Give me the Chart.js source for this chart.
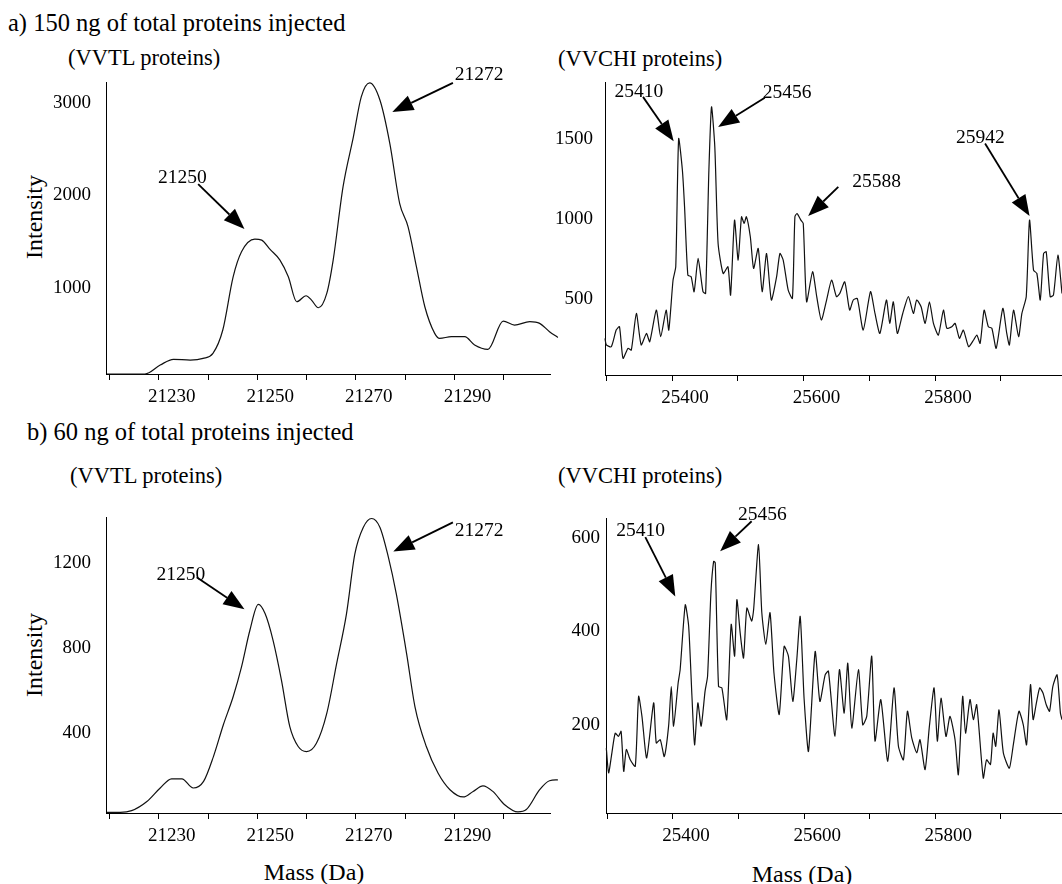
<!DOCTYPE html>
<html>
<head>
<meta charset="utf-8">
<title>Deconvoluted mass spectra</title>
<script src="https://cdn.jsdelivr.net/npm/chart.js@4.4.1/dist/chart.umd.min.js"></script>
<style>
	body {
		margin: 0;
		background: #fff;
	}
	#page {
		position: relative;
		width: 1062px;
		height: 884px;
		overflow: hidden;
		font-family: "Liberation Serif", "Times New Roman", serif;
		color: #000;
	}
	#page canvas {
		position: absolute;
	}
	.txt {
		position: absolute;
		white-space: nowrap;
		line-height: 1;
	}
	.title {
		font-size: 24.5px;
	}
	.sub {
		font-size: 22.5px;
	}
	.axis-title {
		font-size: 24px;
		transform: translate(-50%, -50%);
	}
	.vert {
		transform: translate(-50%, -50%) rotate(-90deg);
	}
</style>
</head>
<body>
<div id="page">
	<div class="txt title" style="left: 8px; top: 11px">a) 150 ng of total proteins injected</div>
	<div class="txt sub" style="left: 68px; top: 47px">(VVTL proteins)</div>
	<div class="txt sub" style="left: 558px; top: 48px">(VVCHI proteins)</div>
	<div class="txt axis-title vert" style="left: 34px; top: 217px">Intensity</div>

	<div class="txt title" style="left: 27px; top: 420px">b) 60 ng of total proteins injected</div>
	<div class="txt sub" style="left: 70px; top: 465px">(VVTL proteins)</div>
	<div class="txt sub" style="left: 558px; top: 465px">(VVCHI proteins)</div>
	<div class="txt axis-title vert" style="left: 34px; top: 655px">Intensity</div>
	<div class="txt axis-title" style="left: 314px; top: 872px">Mass (Da)</div>
	<div class="txt axis-title" style="left: 802px; top: 874px">Mass (Da)</div>

	<canvas id="a-vvtl" width="570" height="380" style="left: 0; top: 40px"></canvas>
	<canvas id="a-vvchi" width="522" height="380" style="left: 540px; top: 40px"></canvas>
	<canvas id="b-vvtl" width="570" height="380" style="left: 0; top: 470px"></canvas>
	<canvas id="b-vvchi" width="522" height="380" style="left: 540px; top: 470px"></canvas>
</div>

<script>
// tick marks and tick labels
const ticksVVTL = [21220, 21230, 21240, 21250, 21260, 21270, 21280, 21290, 21300];
const labelsVVTL = [21230, 21250, 21270, 21290];
const ticksVVCHI = [25300, 25400, 25500, 25600, 25700, 25800, 25900];
const labelsVVCHI = [25400, 25600, 25800];
const yTicksA_vvtl = [1000, 2000, 3000];
const yTicksA_vvchi = [500, 1000, 1500];
const yTicksB_vvtl = [400, 800, 1200];
const yTicksB_vvchi = [200, 400, 600];

// a) 150 ng, VVTL
const massA_vvtl = [21219.5, 21227.2, 21230.3, 21233, 21236.4, 21239, 21241, 21243, 21245.1, 21246.8, 21249.5, 21250.9, 21252.6, 21254.6, 21256.3, 21258, 21259.9, 21261, 21262.4, 21264.1, 21265.4, 21267.4, 21269.5, 21271.1, 21272.8, 21274.9, 21276.9, 21278.9, 21280.6, 21282.3, 21284, 21286, 21287, 21289.4, 21292.1, 21294.1, 21296.8, 21299.9, 21302.2, 21305.3, 21307.3, 21309.3, 21311];
const intA_vvtl = [0, 0, 97, 159, 151, 169, 223, 476, 1052, 1323, 1460, 1449, 1348, 1233, 1052, 782, 847, 800, 717, 872, 1233, 2025, 2566, 2999, 3150, 2962, 2494, 1845, 1593, 1160, 728, 440, 386, 404, 404, 314, 267, 573, 530, 566, 548, 458, 396];

// a) 150 ng, VVCHI
const massA_vvchi = [25298, 25300, 25307.6, 25315, 25320, 25325.4, 25333, 25338, 25345.7, 25353, 25361, 25366, 25376, 25382.7, 25391, 25395, 25401.5, 25405.6, 25410, 25415.7, 25419, 25424, 25429, 25433.5, 25439.6, 25447, 25451, 25456, 25460, 25465, 25470, 25477.7, 25485, 25489, 25495, 25500.5, 25505.6, 25509.6, 25513, 25519, 25524, 25531, 25537, 25543.7, 25551, 25559, 25564, 25569, 25576.6, 25583, 25586.8, 25590, 25595.9, 25599.5, 25604.6, 25613.7, 25620, 25627, 25635, 25642.6, 25650, 25655, 25662.6, 25670, 25675.6, 25681.7, 25690.7, 25701.8, 25708.6, 25716, 25726, 25731, 25736.5, 25742.6, 25750.8, 25759.4, 25767, 25772, 25778.7, 25784.8, 25791.4, 25797.5, 25805, 25812.7, 25817.8, 25825.4, 25830.5, 25837, 25843, 25851, 25858.6, 25863.5, 25868.5, 25874.6, 25881, 25886.3, 25892.9, 25903, 25909, 25913, 25919.3, 25927, 25932, 25938.6, 25943.6, 25949.7, 25954.8, 25959.9, 25965, 25969, 25975, 25980, 25986.8, 25993];
const intA_vvchi = [229, 188, 177, 281, 302, 104, 167, 156, 385, 188, 260, 208, 406, 240, 406, 281, 594, 677, 1479, 1281, 1052, 625, 615, 521, 729, 521, 510, 1281, 1677, 1427, 823, 635, 677, 500, 969, 719, 990, 948, 990, 865, 667, 792, 521, 760, 469, 615, 760, 719, 531, 479, 990, 1010, 969, 948, 458, 646, 490, 344, 469, 594, 490, 510, 583, 406, 469, 479, 281, 521, 385, 260, 469, 323, 458, 260, 385, 490, 385, 469, 427, 323, 458, 323, 250, 406, 292, 302, 323, 229, 281, 177, 219, 250, 198, 406, 302, 292, 167, 417, 260, 188, 406, 240, 385, 490, 969, 656, 635, 469, 760, 771, 490, 500, 750, 510];

// b) 60 ng, VVTL
const massB_vvtl = [21219.5, 21222.2, 21224.5, 21227.6, 21230.3, 21232.6, 21234.7, 21237, 21239.1, 21241.1, 21243.1, 21245.1, 21246.8, 21248.5, 21250.2, 21251.6, 21253.2, 21254.9, 21256.6, 21258.3, 21260, 21262, 21264.1, 21266.1, 21268.1, 21269.8, 21271.5, 21273.2, 21274.9, 21276.6, 21278.2, 21280.3, 21282, 21284.3, 21286.7, 21289.1, 21291.8, 21293.8, 21295.8, 21297.8, 21300.2, 21302.9, 21304.6, 21307.3, 21309.3, 21311];
const intB_vvtl = [3, 3, 11, 54, 117, 160, 160, 117, 148, 264, 412, 544, 684, 855, 976, 932, 808, 622, 404, 311, 287, 326, 466, 699, 932, 1212, 1336, 1378, 1336, 1197, 1026, 746, 497, 311, 186, 109, 75, 101, 127, 101, 39, 5, 16, 109, 151, 155];

// b) 60 ng, VVCHI
const massB_vvchi = [25298.5, 25302, 25307, 25312, 25317, 25321, 25325, 25329, 25335, 25342.6, 25347.7, 25352.8, 25360, 25370.6, 25374.6, 25380.7, 25386.8, 25393.4, 25397.5, 25401, 25408, 25411, 25418.8, 25424, 25429, 25433, 25438, 25443, 25449, 25452.8, 25457.9, 25462, 25464.5, 25469.5, 25474.6, 25482, 25488.8, 25494, 25497.5, 25502.5, 25507.6, 25512.7, 25520, 25523, 25530.5, 25535.5, 25541.6, 25548, 25554, 25562, 25569.5, 25576, 25582.7, 25588.8, 25594, 25600, 25606.6, 25616.8, 25624, 25632, 25637, 25647, 25653.8, 25661, 25666.5, 25672.6, 25682.7, 25689.3, 25695.4, 25703, 25708, 25716.8, 25727.4, 25737, 25743.7, 25751.3, 25757.4, 25764, 25771.6, 25776.6, 25784.3, 25790.9, 25798, 25803, 25808.6, 25816.2, 25822.3, 25830, 25835, 25841.6, 25846, 25852.8, 25857.9, 25863, 25873, 25878, 25884, 25888, 25892, 25897, 25903.6, 25912.7, 25918.8, 25927.4, 25934, 25939, 25945, 25949, 25954, 25959, 25964, 25969, 25974, 25979, 25985.5, 25990.6, 25993];
const intB_vvchi = [139, 86, 129, 171, 164, 175, 89, 136, 114, 100, 250, 207, 118, 236, 150, 157, 121, 186, 271, 186, 279, 307, 446, 400, 250, 146, 236, 186, 261, 293, 471, 539, 536, 271, 268, 200, 404, 336, 457, 386, 332, 439, 411, 436, 575, 429, 361, 429, 300, 211, 357, 336, 239, 329, 421, 243, 132, 346, 239, 296, 304, 164, 307, 214, 321, 182, 307, 189, 207, 336, 154, 243, 111, 268, 143, 114, 218, 161, 129, 157, 93, 186, 268, 154, 246, 164, 207, 157, 82, 250, 171, 243, 200, 232, 75, 114, 104, 171, 143, 221, 129, 96, 146, 218, 189, 146, 275, 200, 236, 268, 257, 232, 218, 271, 296, 214, 200];

// peak labels: text centre, arrow tail and arrow tip, in (mass, intensity)
const arrowsA_vvtl = [
	{ text: "21250", at: [21234.8, 2126], from: [21238, 2054], to: [21247.4, 1568] },
	{ text: "21272", at: [21295, 3233], from: [21289.7, 3150], to: [21277.4, 2836] },
];
const arrowsA_vvchi = [
	{ text: "25410", at: [25349.7, 1771], from: [25355.8, 1740], to: [25402.5, 1462] },
	{ text: "25456", at: [25575, 1767], from: [25541, 1735], to: [25470, 1552] },
	{ text: "25588", at: [25711, 1208], from: [25652.8, 1177], to: [25607, 994] },
	{ text: "25942", at: [25869, 1485], from: [25876, 1448], to: [25943.7, 994] },
];
const arrowsB_vvtl = [
	{ text: "21250", at: [21234.5, 1114], from: [21237.7, 1103], to: [21247.4, 953] },
	{ text: "21272", at: [21295, 1321], from: [21289.7, 1360], to: [21277.6, 1223] },
];
const arrowsB_vvchi = [
	{ text: "25410", at: [25350.8, 604], from: [25357.9, 591], to: [25403.6, 464] },
	{ text: "25456", at: [25536.5, 639], from: [25520, 625], to: [25472, 561] },
];

const FONT = "'Liberation Serif', 'Times New Roman', serif";

function drawArrow(ctx, x1, y1, x2, y2) {
	const ang = Math.atan2(y2 - y1, x2 - x1);
	const len = 21;
	const half = 8;
	const bx = x2 - len * Math.cos(ang);
	const by = y2 - len * Math.sin(ang);

	ctx.beginPath();
	ctx.moveTo(x1, y1);
	ctx.lineTo(bx, by);
	ctx.lineWidth = 1.8;
	ctx.stroke();

	ctx.beginPath();
	ctx.moveTo(x2, y2);
	ctx.lineTo(bx - half * Math.sin(ang), by + half * Math.cos(ang));
	ctx.lineTo(bx + half * Math.sin(ang), by - half * Math.cos(ang));
	ctx.closePath();
	ctx.fill();
}

function arrowPlugin(arrows) {
	return {
		id: "peakArrows",
		afterDatasetsDraw(chart) {
			const { ctx } = chart;
			const xs = chart.scales.x;
			const ys = chart.scales.y;

			ctx.save();
			ctx.fillStyle = "#000";
			ctx.strokeStyle = "#000";
			ctx.font = "19.5px " + FONT;
			ctx.textAlign = "center";
			ctx.textBaseline = "middle";
			arrows.forEach((a) => {
				ctx.fillText(a.text, xs.getPixelForValue(a.at[0]), ys.getPixelForValue(a.at[1]));
				drawArrow(
					ctx,
					xs.getPixelForValue(a.from[0]),
					ys.getPixelForValue(a.from[1]),
					xs.getPixelForValue(a.to[0]),
					ys.getPixelForValue(a.to[1])
				);
			});
			ctx.restore();
		},
	};
}

// p: canvas id, data, tick lists, axis ranges and the box of the plot inside the canvas
function makeSpectrum(p) {
	const ctx = document.getElementById(p.id).getContext("2d");
	const points = p.mass.map((m, i) => ({ x: m, y: p.intensity[i] }));

	return new Chart(ctx, {
		type: "line",
		data: {
			datasets: [
				{
					data: points,
					borderColor: "#111",
					borderWidth: 1.2,
					pointRadius: 0,
					tension: p.tension,
					cubicInterpolationMode: p.tension > 0.3 ? "monotone" : "default",
					fill: false,
					clip: false,
				},
			],
		},
		options: {
			responsive: false,
			animation: false,
			devicePixelRatio: 1,
			parsing: false,
			layout: {
				padding: { top: p.padTop, right: p.padRight, left: 0, bottom: 0 },
			},
			plugins: {
				legend: { display: false },
				tooltip: { enabled: false },
			},
			scales: {
				x: {
					type: "linear",
					min: p.xMin,
					max: p.xMax,
					afterBuildTicks: (scale) => {
						scale.ticks = p.xTicks.map((v) => ({ value: v }));
					},
					afterFit: (scale) => {
						scale.height = p.xHeight;
					},
					ticks: {
						autoSkip: false,
						maxRotation: 0,
						padding: 6,
						labelOffset: 13,
						color: "#000",
						font: { family: FONT, size: 19 },
						callback: (v) => (p.xLabels.includes(v) ? String(v) : ""),
					},
					grid: {
						display: true,
						drawOnChartArea: false,
						drawTicks: true,
						tickLength: 6,
						color: "#000",
						lineWidth: 1,
					},
					border: { display: true, color: "#000", width: 1 },
				},
				y: {
					type: "linear",
					min: 0,
					max: p.yMax,
					afterBuildTicks: (scale) => {
						scale.ticks = p.yTicks.map((v) => ({ value: v }));
					},
					afterFit: (scale) => {
						scale.width = p.yWidth;
					},
					ticks: {
						autoSkip: false,
						padding: p.yPad,
						labelOffset: p.yLabelOffset,
						color: "#000",
						font: { family: FONT, size: 19 },
						callback: (v) => String(v),
					},
					grid: { display: false, drawTicks: false },
					border: { display: true, color: "#000", width: 1 },
				},
			},
		},
		plugins: [arrowPlugin(p.arrows)],
	});
}

document.addEventListener("DOMContentLoaded", () => {
	makeSpectrum({
		id: "a-vvtl",
		mass: massA_vvtl,
		intensity: intA_vvtl,
		arrows: arrowsA_vvtl,
		tension: 0.4,
		xMin: 21219.3,
		xMax: 21309.4,
		xTicks: ticksVVTL,
		xLabels: labelsVVTL,
		yMax: 3160,
		yTicks: yTicksA_vvtl,
		yPad: 15,
		yLabelOffset: 6,
		yWidth: 106,
		xHeight: 46,
		padTop: 42,
		padRight: 20,
	});

	makeSpectrum({
		id: "a-vvchi",
		mass: massA_vvchi,
		intensity: intA_vvchi,
		arrows: arrowsA_vvchi,
		tension: 0.2,
		xMin: 25298,
		xMax: 25993,
		xTicks: ticksVVCHI,
		xLabels: labelsVVCHI,
		yMax: 1833,
		yTicks: yTicksA_vvchi,
		yPad: 12,
		yLabelOffset: 4,
		yWidth: 65,
		xHeight: 45,
		padTop: 42,
		padRight: 0,
	});

	makeSpectrum({
		id: "b-vvtl",
		mass: massB_vvtl,
		intensity: intB_vvtl,
		arrows: arrowsB_vvtl,
		tension: 0.4,
		xMin: 21219.3,
		xMax: 21309.4,
		xTicks: ticksVVTL,
		xLabels: labelsVVTL,
		yMax: 1385,
		yTicks: yTicksB_vvtl,
		yPad: 15,
		yLabelOffset: 6,
		yWidth: 106,
		xHeight: 37,
		padTop: 47,
		padRight: 20,
	});

	makeSpectrum({
		id: "b-vvchi",
		mass: massB_vvchi,
		intensity: intB_vvchi,
		arrows: arrowsB_vvchi,
		tension: 0.2,
		xMin: 25298,
		xMax: 25993,
		xTicks: ticksVVCHI,
		xLabels: labelsVVCHI,
		yMax: 632,
		yTicks: yTicksB_vvchi,
		yPad: 6,
		yLabelOffset: 5,
		yWidth: 66,
		xHeight: 37,
		padTop: 48,
		padRight: 0,
	});
});
</script>
</body>
</html>
